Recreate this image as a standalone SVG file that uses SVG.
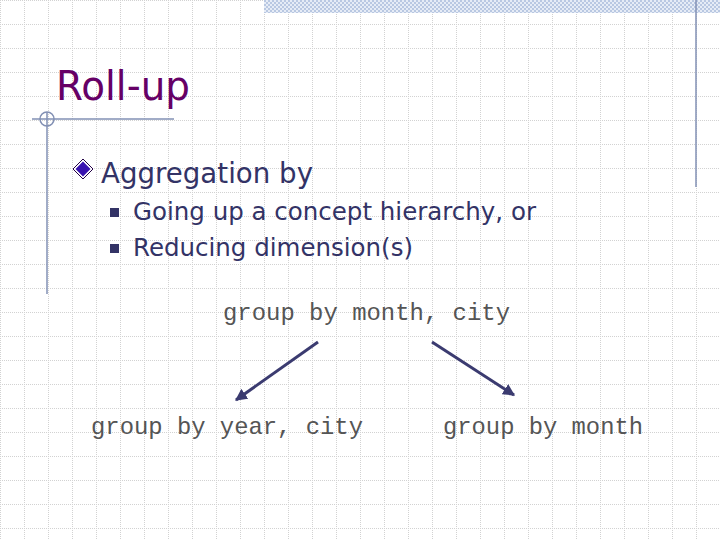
<svg xmlns="http://www.w3.org/2000/svg" width="720" height="540" viewBox="0 0 720 540">
<defs>
<pattern id="grid" x="0" y="0" width="24" height="24" patternUnits="userSpaceOnUse">
<path d="M0 0.5H24M0.5 0V24" stroke="#d2d2d2" stroke-width="1" stroke-dasharray="1 1" fill="none"/>
</pattern>
<pattern id="check" x="0" y="0" width="4" height="4" patternUnits="userSpaceOnUse">
<rect width="4" height="4" fill="#e6ecf6"/>
<rect width="2" height="2" fill="#b9c8e2"/>
<rect x="2" y="2" width="2" height="2" fill="#b9c8e2"/>
</pattern>
<marker id="ah" viewBox="0 0 10 10" refX="9" refY="5" markerWidth="4" markerHeight="4" orient="auto" markerUnits="strokeWidth">
<path d="M0 0L10 5L0 10z" fill="#3b3b70"/>
</marker>
<style>
.title{font-family:"DejaVu Sans",Verdana,sans-serif;font-size:40px;fill:#660066}
.l1{font-family:"DejaVu Sans",Verdana,sans-serif;font-size:28px;fill:#333366}
.l2{font-family:"DejaVu Sans",Verdana,sans-serif;font-size:24px;fill:#333366}
.mono{font-family:"Liberation Mono","Courier New",monospace;font-size:24px;fill:#555555}
.deco{stroke:#8290b4;stroke-width:1.5;fill:none}
.conn{stroke:#3b3b70;stroke-width:3;fill:none;marker-end:url(#ah)}
</style>
</defs>
<rect width="720" height="540" fill="#ffffff"/>
<rect width="720" height="540" fill="url(#grid)"/>
<rect x="264" y="0" width="456" height="13" fill="url(#check)"/>
<g id="decor">
<line class="deco" x1="696" y1="0" x2="696" y2="187"/>
<line class="deco" x1="32" y1="119" x2="174" y2="119"/>
<line class="deco" x1="47" y1="112" x2="47" y2="294"/>
<circle class="deco" cx="47" cy="119" r="7" stroke-width="1"/>
</g>
<g id="title"><text class="title" x="56" y="100" textLength="134" lengthAdjust="spacingAndGlyphs">Roll-up</text></g>
<g id="bullets">
<path d="M83 159L93 169L83 179L73 169Z" fill="#ffffff" stroke="#220044" stroke-width="1"/>
<path d="M83 161.5L90.5 169L83 176.5L75.5 169Z" fill="#3a14b0"/>
<text class="l1" x="101" y="183" textLength="212" lengthAdjust="spacingAndGlyphs">Aggregation by</text>
<rect x="110" y="208" width="9" height="9" fill="#333366"/>
<text class="l2" x="133" y="220" textLength="403" lengthAdjust="spacingAndGlyphs">Going up a concept hierarchy, or</text>
<rect x="110" y="244" width="9" height="9" fill="#333366"/>
<text class="l2" x="133" y="256" textLength="280" lengthAdjust="spacingAndGlyphs">Reducing dimension(s)</text>
</g>
<g id="n_month_city"><text class="mono" x="223" y="320" textLength="287" lengthAdjust="spacingAndGlyphs">group by month, city</text></g>
<g id="n_year_city"><text class="mono" x="91" y="434" textLength="272" lengthAdjust="spacingAndGlyphs">group by year, city</text></g>
<g id="n_month"><text class="mono" x="443" y="434" textLength="200" lengthAdjust="spacingAndGlyphs">group by month</text></g>
<g id="connectors">
<line class="conn" x1="318" y1="342" x2="236" y2="400"/>
<line class="conn" x1="432" y1="342" x2="514" y2="395"/>
</g>
</svg>
